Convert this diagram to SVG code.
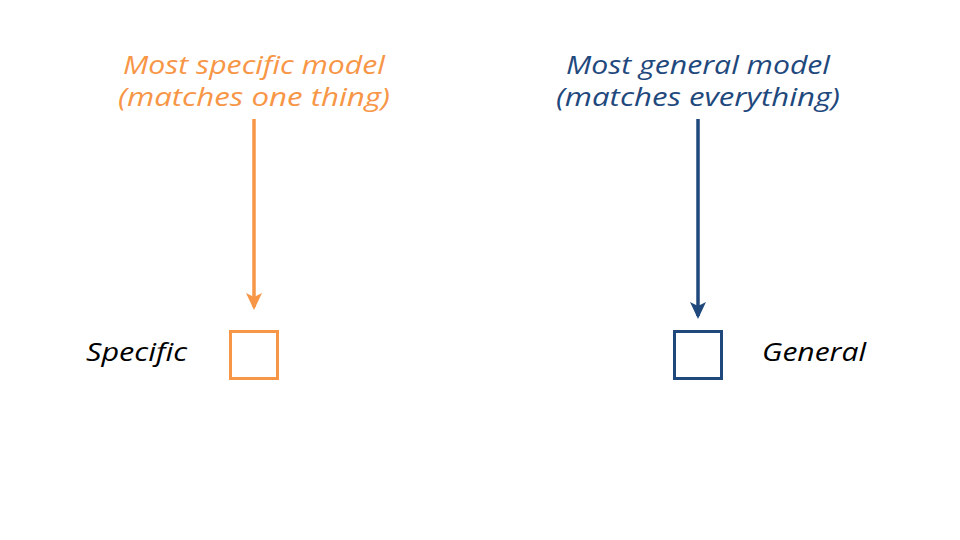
<svg xmlns="http://www.w3.org/2000/svg" width="960" height="540" viewBox="0 0 960 540">
<style>
.t{font-family:"Open Sans","DejaVu Sans",sans-serif;font-style:italic;font-size:25px;}
.o{fill:#F79646}
.b{fill:#1F497D}
.k{fill:#000}
.box{fill:#fff;stroke-width:3}
</style>
<defs>
<marker id="ao" markerWidth="17" markerHeight="16" refX="14" refY="8" orient="auto" markerUnits="userSpaceOnUse" viewBox="0 0 17 16"><path d="M0,0 L17,8 L0,16 L4,8 Z" fill="#F79646"/></marker>
<marker id="ab" markerWidth="17" markerHeight="16" refX="14" refY="8" orient="auto" markerUnits="userSpaceOnUse" viewBox="0 0 17 16"><path d="M0,0 L17,8 L0,16 L4,8 Z" fill="#1F497D"/></marker>
</defs>
<rect width="960" height="540" fill="#fff"/>
<g id="label-specific-model">
<text class="t o" x="254" y="74" text-anchor="middle" textLength="262" lengthAdjust="spacingAndGlyphs">Most specific model</text>
<text class="t o" x="254" y="106" text-anchor="middle" textLength="272" lengthAdjust="spacingAndGlyphs">(matches one thing)</text>
</g>
<g id="label-general-model">
<text class="t b" x="698" y="74" text-anchor="middle" textLength="264" lengthAdjust="spacingAndGlyphs">Most general model</text>
<text class="t b" x="698" y="106" text-anchor="middle" textLength="284" lengthAdjust="spacingAndGlyphs">(matches everything)</text>
</g>
<g id="connectors">
<line x1="254" y1="119" x2="254" y2="307" stroke="#F79646" stroke-width="3.5" marker-end="url(#ao)"/>
<line x1="698" y1="119" x2="698" y2="316" stroke="#1F497D" stroke-width="3.5" marker-end="url(#ab)"/>
</g>
<g id="node-specific">
<rect class="box" x="230.5" y="331.5" width="47" height="47" stroke="#F79646"/>
<text class="t k" x="86" y="361" textLength="101" lengthAdjust="spacingAndGlyphs">Specific</text>
</g>
<g id="node-general">
<rect class="box" x="674.5" y="331.5" width="47" height="47" stroke="#1F497D"/>
<text class="t k" x="762" y="361" textLength="104" lengthAdjust="spacingAndGlyphs">General</text>
</g>
</svg>
